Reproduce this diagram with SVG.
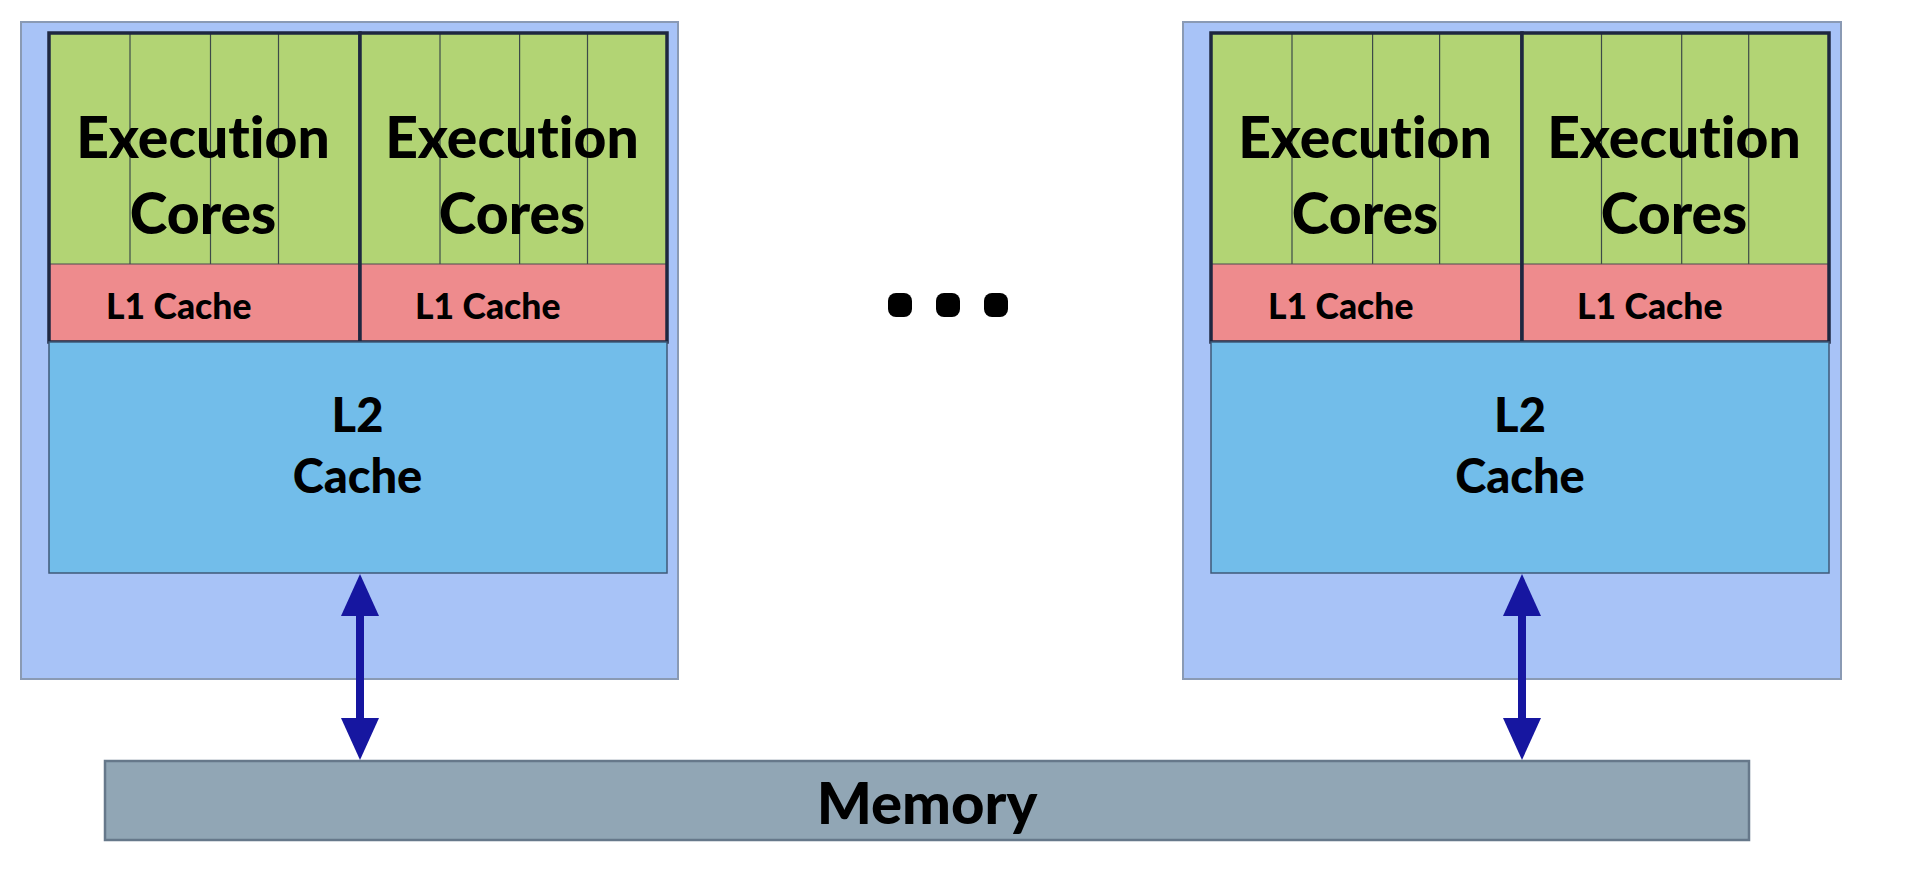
<svg xmlns="http://www.w3.org/2000/svg" width="1908" height="880" viewBox="0 0 1908 880">
  <defs>
    <style>
      .outer { fill: #a8c3f7; stroke: #8a9ab4; stroke-width: 2; }
      .exec { fill: #b2d474; stroke: none; }
      .l1 { fill: #ee8b8d; stroke: none; }
      .clusterBorder { fill: none; stroke: #1e2740; stroke-width: 3.5; }
      .coreLine { stroke: #3c4a48; stroke-width: 1.2; }
      .sep { stroke: #4a4a50; stroke-width: 1.2; }
      .l2 { fill: #72bdea; stroke: #3f5a78; stroke-width: 1.5; }
      .mem { fill: #91a6b5; stroke: #66788a; stroke-width: 2.5; }
      .t { font-family: Lato, "Liberation Sans", sans-serif; font-weight: 900; fill: #000; font-variant-ligatures: none; }
      .big { font-size: 57px; text-anchor: middle; }
      .l1t { font-size: 35.5px; }
      .l2t { font-size: 47px; text-anchor: middle; }
      .memt { font-size: 58px; text-anchor: middle; }
      .link { stroke: #1616a0; stroke-width: 8; fill: none; }
      .dot { fill: #000; }
    </style>
    <marker id="ah" viewBox="0 0 42 40" refX="12" refY="20" markerUnits="userSpaceOnUse" markerWidth="42" markerHeight="40" orient="auto-start-reverse">
      <path d="M0,1 L42,20 L0,39 Z" fill="#1616a0"/>
    </marker>
  </defs>

  <g id="node-left">
    <rect class="outer" x="21" y="22" width="657" height="657"/>
    <g id="left-cluster-1">
      <rect class="exec" x="49" y="33" width="311" height="231"/>
      <rect class="l1" x="49" y="264" width="311" height="78"/>
      <line class="coreLine" x1="130" y1="33" x2="130" y2="264"/>
      <line class="coreLine" x1="210.5" y1="33" x2="210.5" y2="264"/>
      <line class="coreLine" x1="278.5" y1="33" x2="278.5" y2="264"/>
      <line class="sep" x1="49" y1="264" x2="360" y2="264"/>
      <rect class="clusterBorder" x="49" y="33" width="311" height="309"/>
      <text class="t big" x="203" y="158">Execution</text>
      <text class="t big" x="203" y="234">Cores</text>
      <text class="t l1t" x="106" y="319">L1 Cache</text>
    </g>
    <g id="left-cluster-2">
      <rect class="exec" x="360" y="33" width="307" height="231"/>
      <rect class="l1" x="360" y="264" width="307" height="78"/>
      <line class="coreLine" x1="440" y1="33" x2="440" y2="264"/>
      <line class="coreLine" x1="519.6" y1="33" x2="519.6" y2="264"/>
      <line class="coreLine" x1="587.5" y1="33" x2="587.5" y2="264"/>
      <line class="sep" x1="360" y1="264" x2="667" y2="264"/>
      <rect class="clusterBorder" x="360" y="33" width="307" height="309"/>
      <text class="t big" x="512" y="158">Execution</text>
      <text class="t big" x="512" y="234">Cores</text>
      <text class="t l1t" x="415" y="319">L1 Cache</text>
    </g>
    <g id="left-l2">
      <rect class="l2" x="49" y="342" width="618" height="231"/>
      <text class="t l2t" x="357.5" y="432">L2</text>
      <text class="t l2t" x="357.5" y="493">Cache</text>
    </g>
  </g>

  <g id="node-right">
    <rect class="outer" x="1183" y="22" width="658" height="657"/>
    <g id="right-cluster-1">
      <rect class="exec" x="1211" y="33" width="311" height="231"/>
      <rect class="l1" x="1211" y="264" width="311" height="78"/>
      <line class="coreLine" x1="1292" y1="33" x2="1292" y2="264"/>
      <line class="coreLine" x1="1372.6" y1="33" x2="1372.6" y2="264"/>
      <line class="coreLine" x1="1439.6" y1="33" x2="1439.6" y2="264"/>
      <line class="sep" x1="1211" y1="264" x2="1522" y2="264"/>
      <rect class="clusterBorder" x="1211" y="33" width="311" height="309"/>
      <text class="t big" x="1365" y="158">Execution</text>
      <text class="t big" x="1365" y="234">Cores</text>
      <text class="t l1t" x="1268" y="319">L1 Cache</text>
    </g>
    <g id="right-cluster-2">
      <rect class="exec" x="1522" y="33" width="307" height="231"/>
      <rect class="l1" x="1522" y="264" width="307" height="78"/>
      <line class="coreLine" x1="1601.5" y1="33" x2="1601.5" y2="264"/>
      <line class="coreLine" x1="1681.7" y1="33" x2="1681.7" y2="264"/>
      <line class="coreLine" x1="1748.7" y1="33" x2="1748.7" y2="264"/>
      <line class="sep" x1="1522" y1="264" x2="1829" y2="264"/>
      <rect class="clusterBorder" x="1522" y="33" width="307" height="309"/>
      <text class="t big" x="1674" y="158">Execution</text>
      <text class="t big" x="1674" y="234">Cores</text>
      <text class="t l1t" x="1577" y="319">L1 Cache</text>
    </g>
    <g id="right-l2">
      <rect class="l2" x="1211" y="342" width="618" height="231"/>
      <text class="t l2t" x="1520" y="432">L2</text>
      <text class="t l2t" x="1520" y="493">Cache</text>
    </g>
  </g>

  <g id="ellipsis">
    <rect class="dot" x="888" y="293" width="24" height="24" rx="8"/>
    <rect class="dot" x="936" y="293" width="24" height="24" rx="8"/>
    <rect class="dot" x="984" y="293" width="24" height="24" rx="8"/>
  </g>

  <g id="memory">
    <rect class="mem" x="105" y="761" width="1644" height="79"/>
    <text class="t memt" x="927" y="824">Memory</text>
  </g>

  <g id="connectors">
    <line class="link" x1="360" y1="604" x2="360" y2="730" marker-start="url(#ah)" marker-end="url(#ah)"/>
    <line class="link" x1="1522" y1="604" x2="1522" y2="730" marker-start="url(#ah)" marker-end="url(#ah)"/>
  </g>
</svg>
